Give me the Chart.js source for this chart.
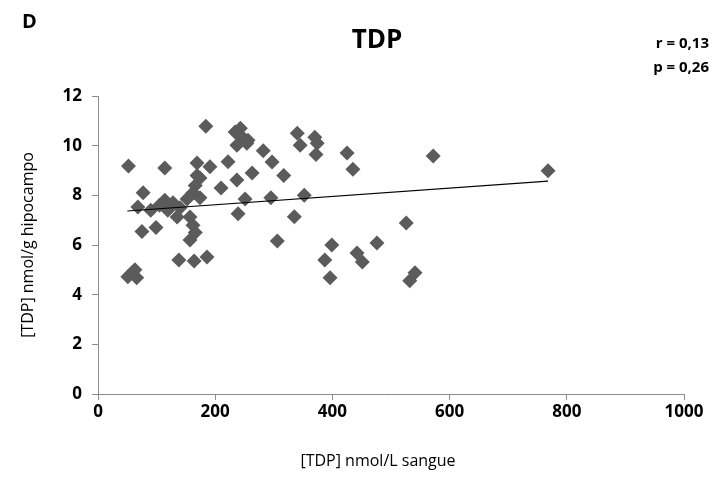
<!DOCTYPE html>
<html>
<head>
<meta charset="utf-8">
<script src="https://cdn.jsdelivr.net/npm/chart.js@4"></script>
<style>
  html, body { margin: 0; padding: 0; background: #fff; }
  #wrap { width: 723px; height: 493px; }
</style>
</head>
<body>
<div id="wrap"><canvas id="grafico" width="723" height="493"></canvas></div>
<script>
// TDP sangue vs hipocampo
const tdpSangue = [52, 114, 169, 191, 184, 222, 234, 243, 246, 256, 237, 254, 282, 297, 263, 237, 317, 210, 251, 295,
  352, 239, 335, 306, 399, 387, 442, 451, 476, 396, 186, 340, 370, 345, 374, 372, 425, 435, 572, 768,
  526, 541, 532, 169, 174, 166, 162, 174, 152, 128, 114, 119, 135, 157, 162, 166, 157, 77, 68, 90,
  75, 99, 138, 164, 58, 66, 51, 63, 105, 140]
const tdpHipocampo = [9.18, 9.1, 9.3, 9.15, 10.78, 9.35, 10.55, 10.7, 10.35, 10.22, 10.02, 10.1, 9.8, 9.34, 8.9, 8.62, 8.8, 8.3, 7.85, 7.9,
  8.0, 7.26, 7.14, 6.16, 6.0, 5.4, 5.68, 5.32, 6.08, 4.68, 5.52, 10.5, 10.34, 10.02, 10.1, 9.64, 9.7, 9.05, 9.58, 8.99,
  6.89, 4.88, 4.56, 8.8, 8.7, 8.4, 8.1, 7.9, 7.85, 7.7, 7.8, 7.4, 7.13, 7.13, 6.8, 6.5, 6.2, 8.1, 7.53, 7.4,
  6.54, 6.7, 5.4, 5.36, 4.88, 4.68, 4.72, 5.0, 7.6, 7.5]

// linea de tendencia (extremos)
const tendenciaX = [50, 768]
const tendenciaY = [7.37, 8.57]

const ticksX = [0, 200, 400, 600, 800, 1000]
const ticksY = [0, 2, 4, 6, 8, 10, 12]

const fuente = '"Open Sans", sans-serif'
const gris = '#8c8c8c'

const puntos = tdpSangue.map((x, i) => ({ x: x, y: tdpHipocampo[i] }))
const tendencia = tendenciaX.map((x, i) => ({ x: x, y: tendenciaY[i] }))

// textos extra: letra del panel, titulo, r y p, titulos de ejes
const textos = {
  id: 'textos',
  afterDraw(chart) {
    const c = chart.ctx
    c.save()
    c.fillStyle = '#000'
    c.textBaseline = 'middle'
    c.font = 'bold 20px ' + fuente
    c.textAlign = 'left'
    c.fillText('D', 22, 22)
    c.font = 'bold 26px ' + fuente
    c.textAlign = 'center'
    c.fillText('TDP', 377, 41)
    c.font = 'bold 15px ' + fuente
    c.textAlign = 'right'
    c.fillText('r = 0,13', 709, 44)
    c.fillText('p = 0,26', 709, 68)
    c.font = '16px ' + fuente
    c.textAlign = 'center'
    c.fillText('[TDP] nmol/L sangue', 378, 461)
    c.translate(28, 245)
    c.rotate(-Math.PI / 2)
    c.fillText('[TDP] nmol/g hipocampo', 0, 0)
    c.restore()
  }
}

const ctx = document.getElementById('grafico')

new Chart(ctx, {
  type: 'scatter',
  data: {
    datasets: [{
      label: 'TDP',
      data: puntos,
      pointStyle: 'rectRot',
      pointRadius: 7.5,
      pointHoverRadius: 7.5,
      backgroundColor: '#5b5b5b',
      borderColor: '#5b5b5b',
      borderWidth: 0,
      order: 2
    }, {
      type: 'line',
      label: 'tendencia',
      data: tendencia,
      borderColor: '#000',
      borderWidth: 1.2,
      pointRadius: 0,
      fill: false,
      order: 1
    }]
  },
  options: {
    responsive: false,
    animation: false,
    layout: { padding: { left: 0, right: 39, top: 96, bottom: 0 } },
    plugins: {
      legend: { display: false },
      tooltip: { enabled: false }
    },
    scales: {
      x: {
        type: 'linear',
        min: 0,
        max: 1000,
        afterFit(scale) { scale.height = 99 },
        afterBuildTicks(scale) { scale.ticks = ticksX.map(v => ({ value: v })) },
        border: { color: gris, width: 1 },
        grid: { drawOnChartArea: false, drawTicks: true, tickLength: 6, color: gris },
        ticks: {
          color: '#000', padding: 2, maxRotation: 0,
          font: { family: fuente, size: 17, weight: 'bold' },
          callback: v => String(v)
        }
      },
      y: {
        type: 'linear',
        min: 0,
        max: 12,
        afterFit(scale) { scale.width = 98 },
        afterBuildTicks(scale) { scale.ticks = ticksY.map(v => ({ value: v })) },
        border: { color: gris, width: 1 },
        grid: { drawOnChartArea: false, drawTicks: true, tickLength: 6, color: gris },
        ticks: {
          color: '#000', padding: 10,
          font: { family: fuente, size: 17, weight: 'bold' },
          callback: v => String(v)
        }
      }
    }
  },
  plugins: [textos]
})
</script>
</body>
</html>
